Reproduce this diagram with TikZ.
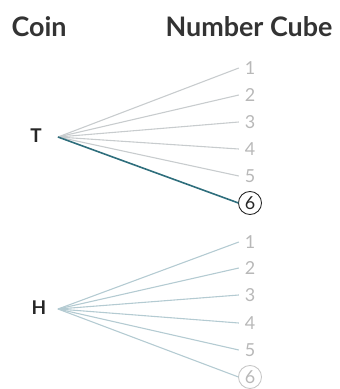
\documentclass[tikz,border=0pt]{standalone}
\usepackage{fontspec}
\setmainfont{Lato}
\definecolor{hotc}{HTML}{2E6E7C}
\definecolor{hlin}{HTML}{B4CBD2}
\definecolor{tlin}{HTML}{C8CCCE}
\begin{document}
\begin{tikzpicture}[x=1bp,y=-1bp,
  head/.style={font=\fontsize{27}{29}\selectfont\bfseries, text=black!80},
  coin/.style={font=\fontsize{19}{21}\selectfont\bfseries, text=black!85},
  num/.style={font=\fontsize{18}{20}\selectfont, text=black!28, inner sep=1pt, outer sep=5pt},
  branch/.style={draw=tlin, line width=1.1pt},
  hbranch/.style={draw=hlin, line width=1.1pt},
  hot/.style={draw=hotc, line width=1.6pt}]
\useasboundingbox (0,0) rectangle (340,389);
\node[head] (hc) at (39,27) {Coin};
\node[head] (hn) at (249,27) {Number Cube};
\node[coin] (T) at (36,136) {T};
\node[coin] (H) at (39,308) {H};
\coordinate (to) at (58,137);
\coordinate (ho) at (58,309);
% T numbers
\foreach \i/\y in {1/68,2/95,3/122,4/149,5/176} {
  \node[num] (t\i) at (250,\y) {\i};
  \draw[branch] (to) -- (t\i.west);
}
\node[num, draw=black!85, circle, text=black!85, inner sep=2.3pt, outer sep=0pt, line width=0.9pt] (t6) at (250,203) {6};
\draw[hot] (to) -- (t6.west);
% H numbers
\foreach \i/\y in {1/242,2/268,3/295,4/323,5/350} {
  \node[num] (h\i) at (250,\y) {\i};
  \draw[hbranch] (ho) -- (h\i.west);
}
\node[num, draw=black!22, circle, inner sep=2.3pt, outer sep=0pt, line width=0.9pt] (h6) at (250,377) {6};
\draw[hbranch] (ho) -- (h6.west);
\end{tikzpicture}
\end{document}
